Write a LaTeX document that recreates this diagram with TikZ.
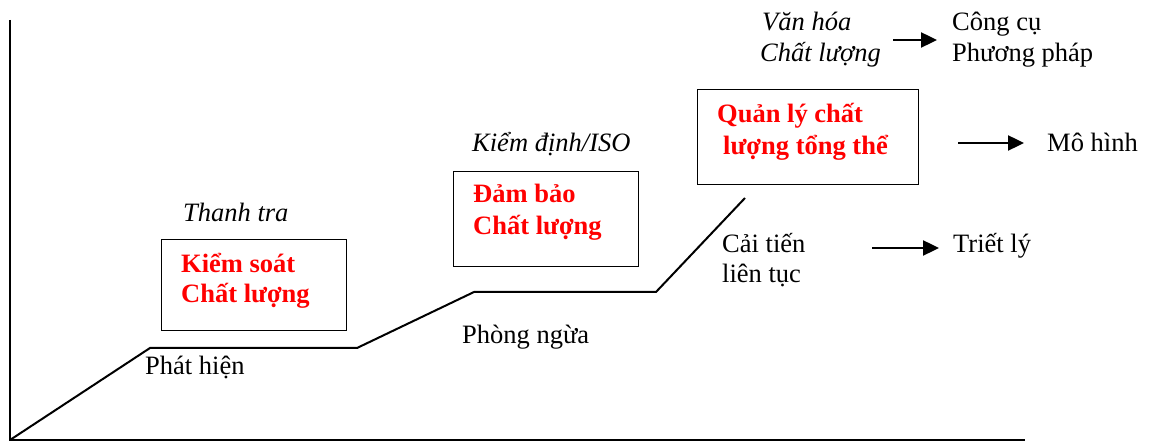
\documentclass[tikz,border=0pt]{standalone}
\usepackage{fontspec}
\setmainfont{Liberation Serif}
\usetikzlibrary{arrows.meta}
\definecolor{hot}{RGB}{255,0,0}
\begin{document}
\begin{tikzpicture}[x=1pt,y=-1pt,
  txt/.style={anchor=base west,inner sep=0pt,font=\fontsize{26.5}{31}\selectfont},
  itx/.style={txt,font=\fontsize{26.5}{31}\selectfont\itshape},
  bld/.style={txt,text=hot,font=\fontsize{26.5}{31}\selectfont\bfseries},
  stagebox/.style={draw,line width=1.2pt,rectangle,anchor=north west,inner sep=0pt},
  axis/.style={line width=2pt},
  curve/.style={line width=2pt,line join=miter},
  pointer/.style={line width=2.4pt,-{Triangle[length=16pt,width=15pt]}}]
\useasboundingbox (0,0) rectangle (1149,443);

% axes
\coordinate (o) at (10,440);
\coordinate (ytop) at (10,20);
\coordinate (xend) at (1025,440);
\draw[axis] (ytop) -- (o) -- (xend);

% staircase of quality stages
\coordinate (s1) at (150,348);
\coordinate (s2) at (357,348);
\coordinate (s3) at (474,292);
\coordinate (s4) at (656,292);
\coordinate (s5) at (745,198);
\draw[curve] (o) -- (s1) -- (s2) -- (s3) -- (s4) -- (s5);

% stage boxes
\node[stagebox,minimum width=185pt,minimum height=91pt] (b1) at (161,239) {};
\node[stagebox,minimum width=185pt,minimum height=95pt] (b2) at (453,171) {};
\node[stagebox,minimum width=221pt,minimum height=95pt] (b3) at (697,89) {};

% stage 1
\node[itx] (thanh) at (183,222) {Thanh tra};
\node[bld] (ks1) at (181,273) {Kiểm soát};
\node[bld] (ks2) at (181,303) {Chất lượng};
\node[txt] (phat) at (145,375) {Phát hiện};

% stage 2
\node[itx] (kd) at (472,152) {Kiểm định/ISO};
\node[bld] (db1) at (473,203) {Đảm bảo};
\node[bld] (db2) at (473,235) {Chất lượng};
\node[txt] (phong) at (462,344) {Phòng ngừa};

% stage 3
\node[bld] (ql1) at (717,123) {Quản lý chất};
\node[bld] (ql2) at (723,155) {lượng tổng thể};
\node[itx] (vh1) at (762,31) {Văn hóa};
\node[itx] (vh2) at (760,62) {Chất lượng};
\node[txt] (cc1) at (952,31) {Công cụ};
\node[txt] (cc2) at (952,62) {Phương pháp};
\node[txt] (mh) at (1047,152) {Mô hình};
\node[txt] (ct1) at (722,253) {Cải tiến};
\node[txt] (ct2) at (722,283) {liên tục};
\node[txt] (tl) at (953,253) {Triết lý};

% arrows
\coordinate (a1s) at (893,40);
\coordinate (a1e) at (937,40);
\coordinate (a2s) at (958,143);
\coordinate (a2e) at (1024,143);
\coordinate (a3s) at (872,248);
\coordinate (a3e) at (939,248);
\draw[pointer] (a1s) -- (a1e);
\draw[pointer] (a2s) -- (a2e);
\draw[pointer] (a3s) -- (a3e);
\end{tikzpicture}
\end{document}
